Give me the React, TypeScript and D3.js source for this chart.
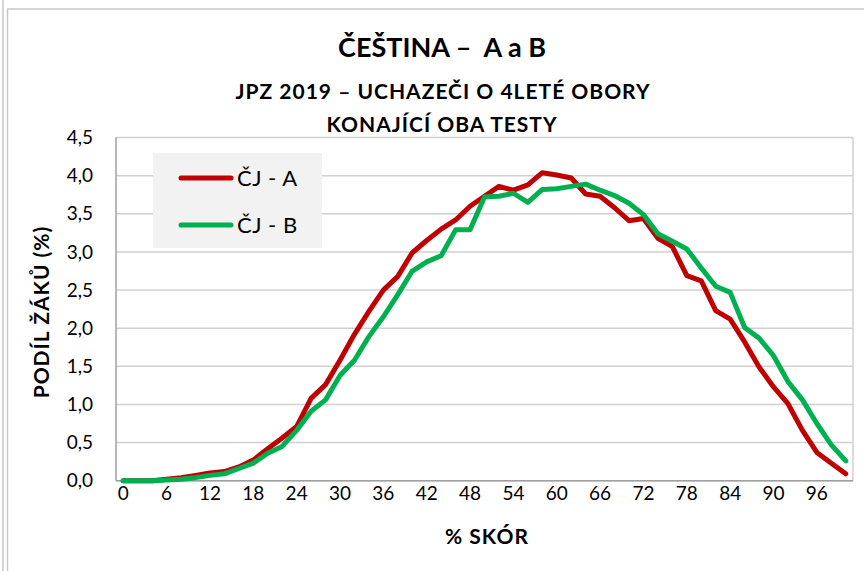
import React from "react";
import * as d3 from "d3";

const categories: number[] = [0,2,4,6,8,10,12,14,16,18,20,22,24,26,28,30,32,34,36,38,40,42,44,46,48,50,52,54,56,58,60,62,64,66,68,70,72,74,76,78,80,82,84,86,88,90,92,94,96,98,100];

const seriesA: number[] = [0.00,0.00,0.00,0.02,0.04,0.07,0.10,0.12,0.18,0.27,0.42,0.56,0.71,1.08,1.26,1.58,1.92,2.22,2.50,2.68,2.99,3.15,3.30,3.42,3.60,3.73,3.86,3.81,3.88,4.04,4.01,3.97,3.76,3.73,3.58,3.41,3.44,3.18,3.07,2.69,2.62,2.23,2.12,1.82,1.49,1.23,1.01,0.66,0.37,0.23,0.09];

const seriesB: number[] = [0.00,0.00,0.00,0.01,0.02,0.04,0.07,0.09,0.16,0.23,0.36,0.45,0.66,0.91,1.06,1.38,1.58,1.89,2.15,2.44,2.75,2.87,2.95,3.29,3.29,3.72,3.73,3.77,3.65,3.82,3.83,3.86,3.89,3.81,3.74,3.64,3.49,3.24,3.14,3.04,2.79,2.55,2.47,2.01,1.87,1.64,1.30,1.06,0.75,0.47,0.26];

const yTicks: number[] = [0,0.5,1,1.5,2,2.5,3,3.5,4,4.5];
const xTickLabels: number[] = [0,6,12,18,24,30,36,42,48,54,60,66,72,78,84,90,96];

const seriesNames = ["ČJ - A", "ČJ - B"];
const colors = ["#C00000", "#00B050"];

const FONT = "Lato, 'Open Sans', sans-serif";

export default function App() {
  const W = 864, H = 571;
  const x = d3.scaleBand<number>().domain(categories).range([116, 853]).paddingInner(0).paddingOuter(0);
  const cx = (c: number) => (x(c) as number) + x.bandwidth() / 2;
  const y = d3.scaleLinear().domain([0, 4.5]).range([480.7, 137.6]);
  const line = d3.line<number>().x((_, i) => cx(categories[i])).y(d => y(d));
  const fmt = (v: number) => v.toFixed(1).replace(".", ",");
  const series = [seriesA, seriesB];

  return (
    <svg width={W} height={H} style={{ position: "absolute", left: 0, top: 0, background: "#fff" }} fontFamily={FONT}>
      <rect x={0} y={0} width={W} height={H} fill="#fff" />
      {/* outer frame */}
      <line x1={3} x2={3} y1={0} y2={H} stroke="#c8c8c8" strokeWidth={1.5} />
      <rect x={7.5} y={9} width={W + 10} height={H + 10} fill="none" stroke="#c8c8c8" strokeWidth={1.5} />

      {/* titles */}
      <text x={442} y={57} textAnchor="middle" fontWeight="bold" fontSize={27} fill="#000" style={{ whiteSpace: "pre" }}>{"ČEŠTINA –  A a B"}</text>
      <text x={443} y={99} textAnchor="middle" fontWeight="bold" fontSize={21} letterSpacing={1} fill="#000">JPZ 2019 – UCHAZEČI O 4LETÉ OBORY</text>
      <text x={442} y={132} textAnchor="middle" fontWeight="bold" fontSize={21} letterSpacing={1} fill="#000">KONAJÍCÍ OBA TESTY</text>

      {/* gridlines */}
      {yTicks.map(t => (
        <line key={t} x1={116} x2={853} y1={y(t)} y2={y(t)} stroke="#d0d0d0" strokeWidth={1.5} />
      ))}
      <line x1={853} x2={853} y1={y(4.5)} y2={y(0)} stroke="#d0d0d0" strokeWidth={1.5} />
      {/* axes */}
      <line x1={116} x2={116} y1={y(4.5)} y2={y(0)} stroke="#a0a0a0" strokeWidth={1.5} />
      <line x1={116} x2={853} y1={y(0)} y2={y(0)} stroke="#a0a0a0" strokeWidth={1.5} />

      {/* y tick labels */}
      {yTicks.map(t => (
        <text key={t} x={93} y={y(t)} dy="0.35em" textAnchor="end" fontSize={19} fill="#000">{fmt(t)}</text>
      ))}
      {/* x tick labels */}
      {xTickLabels.map(t => (
        <text key={t} x={cx(t)} y={500} textAnchor="middle" fontSize={19} fill="#000">{t}</text>
      ))}

      {/* axis titles */}
      <text x={487} y={544} textAnchor="middle" fontWeight="bold" fontSize={21} letterSpacing={1} fill="#000">% SKÓR</text>
      <text transform={`translate(49, 312) rotate(-90)`} textAnchor="middle" fontWeight="bold" fontSize={21} letterSpacing={1} fill="#000">PODÍL ŽÁKŮ (%)</text>

      {/* lines */}
      {series.map((s, i) => (
        <path key={i} d={line(s) || ""} fill="none" stroke={colors[i]} strokeWidth={5} strokeLinejoin="round" strokeLinecap="round" />
      ))}

      {/* legend */}
      <rect x={153} y={153} width={169} height={95} fill="#f2f2f2" />
      {seriesNames.map((n, i) => (
        <g key={n}>
          <line x1={181} x2={231} y1={178 + i * 47} y2={178 + i * 47} stroke={colors[i]} strokeWidth={5} strokeLinecap="round" />
          <text x={237} y={178 + i * 47} dy="0.35em" fontSize={22} letterSpacing={0.5} fill="#000">{n}</text>
        </g>
      ))}
    </svg>
  );
}
